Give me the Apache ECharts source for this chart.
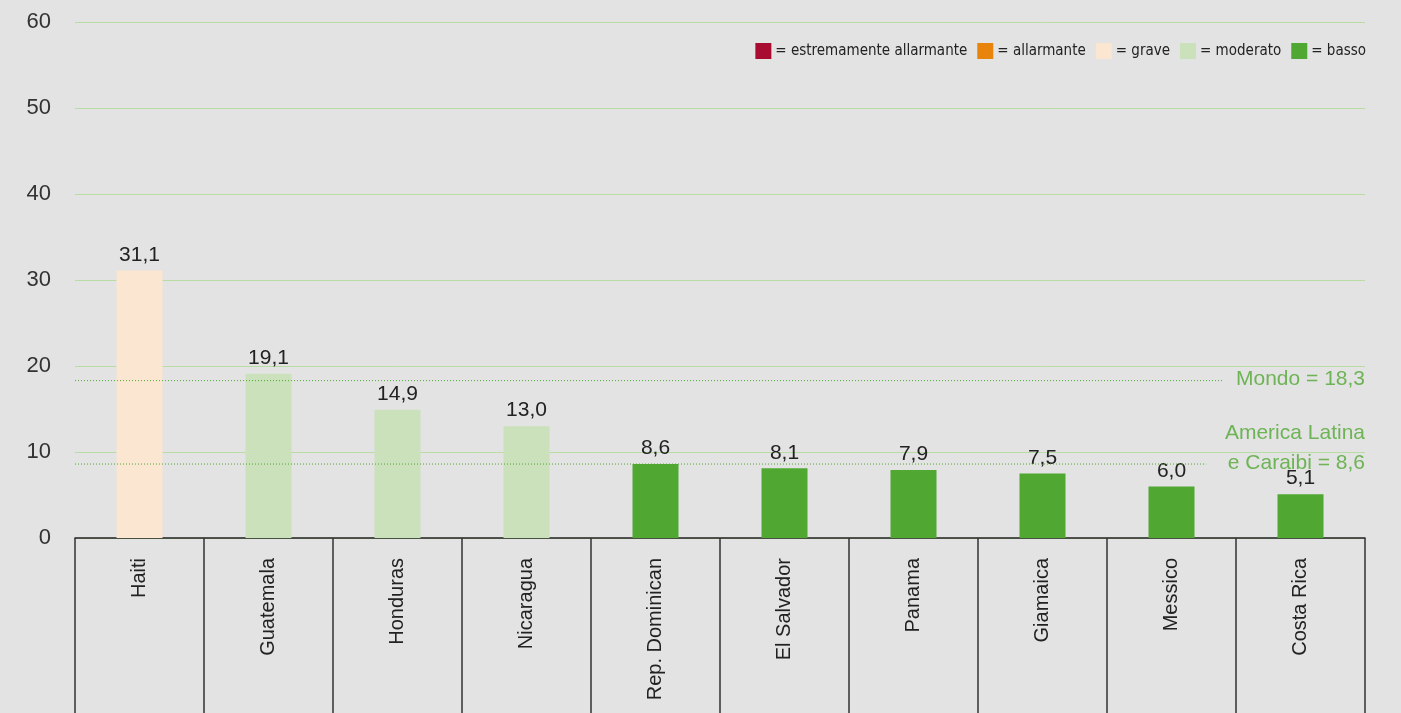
<!DOCTYPE html>
<html>
<head>
<meta charset="utf-8">
<script src="https://cdn.jsdelivr.net/npm/echarts@6/dist/echarts.min.js"></script>
<style>
  html, body { margin: 0; padding: 0; background: #e3e3e3; }
  #chart { width: 1401px; height: 713px; }
</style>
</head>
<body>
<div id="chart"></div>
<script>
// Countries and their index values
const countries = ['Haiti', 'Guatemala', 'Honduras', 'Nicaragua', 'Rep. Dominican', 'El Salvador', 'Panama', 'Giamaica', 'Messico', 'Costa Rica'];
const values = [31.1, 19.1, 14.9, 13.0, 8.6, 8.1, 7.9, 7.5, 6.0, 5.1];
const levels = ['grave', 'moderato', 'moderato', 'moderato', 'basso', 'basso', 'basso', 'basso', 'basso', 'basso'];

// Severity classes shown in the legend
const levelNames = ['estremamente allarmante', 'allarmante', 'grave', 'moderato', 'basso'];
const levelColors = ['#a80d31', '#e8840c', '#fbe6d1', '#cae1bb', '#50a832'];

// Reference averages
const worldValue = 18.3;
const latamValue = 8.6;

const yTicks = [0, 10, 20, 30, 40, 50, 60];

const fmt = v => v.toFixed(1).replace('.', ',');
const colorOf = lvl => levelColors[levelNames.indexOf(lvl)];
const green = '#50a832';
const font = 'Liberation Sans, Arial, sans-serif';
const narrow = 'DejaVu Sans Condensed, Liberation Sans Narrow, sans-serif';

const chart = echarts.init(document.getElementById('chart'));

const legendSeries = levelNames.map((n, i) => ({
  name: n, type: 'bar', xAxisIndex: 0, yAxisIndex: 0, data: [],
  itemStyle: { color: levelColors[i] }
}));

chart.setOption({
  backgroundColor: '#e3e3e3',
  animation: false,
  grid: { left: 75, right: 36, top: 22, bottom: 175 },
  legend: {
    data: levelNames,
    right: 30, top: 38,
    itemWidth: 16, itemHeight: 16, itemGap: 10,
    icon: 'rect',
    formatter: n => '= ' + n,
    textStyle: { fontFamily: narrow, fontSize: 15, color: '#222', padding: [0, 0, 0, -1] }
  },
  xAxis: [{
    type: 'category',
    data: countries,
    axisLine: { lineStyle: { color: '#222', width: 1.5 } },
    axisTick: { show: true, length: 180, alignWithLabel: false, lineStyle: { color: '#333', width: 1.5 } },
    axisLabel: { rotate: 90, margin: 20, fontFamily: font, fontSize: 20, color: '#222' }
  }, {
    type: 'value', min: 0, max: 10, show: false
  }],
  yAxis: {
    type: 'value', min: 0, max: 60, interval: 10,
    axisLine: { show: false }, axisTick: { show: false },
    axisLabel: { margin: 24, fontFamily: font, fontSize: 22, color: '#333',
      formatter: v => yTicks.includes(v) ? String(v) : '' },
    splitLine: { lineStyle: { color: '#b8dca2', width: 1 } }
  },
  series: [
    ...legendSeries,
    {
      name: 'valori', type: 'bar', barWidth: 46, barGap: '-100%',
      data: values.map((v, i) => ({ value: v, itemStyle: { color: colorOf(levels[i]) } })),
      label: { show: true, position: 'top', distance: 5, fontFamily: font, fontSize: 21, color: '#222',
        formatter: p => fmt(p.value) }
    },
    {
      name: 'mondo', type: 'line', xAxisIndex: 1, yAxisIndex: 0, symbol: 'none', silent: true,
      lineStyle: { color: green, width: 1, type: [1, 2] },
      data: [[0, worldValue], [8.9, worldValue]]
    },
    {
      name: 'latam', type: 'line', xAxisIndex: 1, yAxisIndex: 0, symbol: 'none', silent: true,
      lineStyle: { color: green, width: 1, type: [1, 2] },
      data: [[0, latamValue], [8.77, latamValue]]
    },
    {
      name: 'etichette', type: 'scatter', xAxisIndex: 1, yAxisIndex: 0, symbolSize: 0, silent: true,
      data: [
        { value: [10, worldValue], label: { formatter: 'Mondo = ' + fmt(worldValue), verticalAlign: 'middle', offset: [0, -1] } },
        { value: [10, latamValue], label: { formatter: 'America Latina\ne Caraibi = ' + fmt(latamValue), verticalAlign: 'bottom', lineHeight: 30, offset: [0, 14] } }
      ],
      label: { show: true, position: 'left', distance: 0, align: 'right', fontFamily: font, fontSize: 21, color: green }
    }
  ]
});
</script>
</body>
</html>
